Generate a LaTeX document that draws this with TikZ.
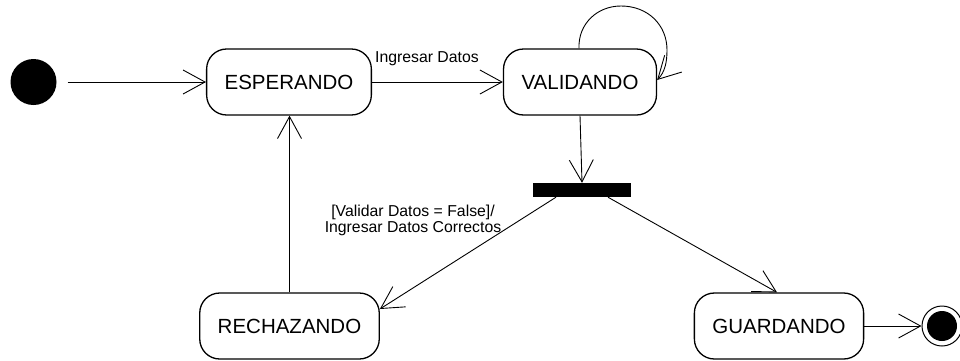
\documentclass[tikz,border=0pt]{standalone}
\usepackage{fontspec}
\setmainfont{Liberation Sans}
\usetikzlibrary{arrows.meta, positioning}
\definecolor{linecolor}{RGB}{0,0,0}

\tikzset{
    statebox/.style={draw=linecolor, line width=1.3pt, rounded corners=20pt,
        minimum height=66pt, inner xsep=18pt, font=\fontsize{20.5}{24}\selectfont},
    startdot/.style={circle, fill=linecolor, minimum size=46pt, inner sep=0pt},
    endring/.style={circle, draw=linecolor, line width=1pt, minimum size=40pt, inner sep=0pt},
    forkbar/.style={rectangle, fill=linecolor, minimum width=98pt, minimum height=14pt, inner sep=0pt},
    trans/.style={draw=linecolor, line width=0.9pt, -{Straight Barb[length=22pt, width=24pt, line width=0.9pt]}},
    edgelabel/.style={font=\fontsize{15.8}{16}\selectfont, inner sep=0pt}
}

\begin{document}
\begin{tikzpicture}[x=1pt, y=-1pt]
    \useasboundingbox (0,0) rectangle (960,360);

    % Initial and final states
    \node[startdot] (start) at (33.5,82) {};
    \node[endring] (fin) at (942,326) {};
    \fill[linecolor] (fin.center) circle (15pt);

    % States
    \node[statebox] (esp) at (289,82) {ESPERANDO};
    \node[statebox] (val) at (580,82) {VALIDANDO};
    \node[statebox] (rech) at (289.5,326) {RECHAZANDO};
    \node[statebox] (guar) at (779,326) {GUARDANDO};

    % Fork bar
    \node[forkbar] (bar) at (582,190) {};

    % Transitions
    \draw[trans] ([xshift=11pt]start.east) -- (esp.west);
    \draw[trans] (esp.east) -- node[edgelabel, pos=0.42, above=16pt] (lblin) {Ingresar Datos} (val.west);
    \draw[trans] ([xshift=-1pt]val.north) .. controls (578,24) and (597,6) .. (621,6)
        .. controls (648,6) and (667,25) .. (667,50)
        .. controls (667,62) and (665,72) .. ([yshift=2pt]val.east);
    \draw[trans] (val.south) -- (bar.north);
    \draw[trans] ([xshift=-26pt]bar.south) -- ([yshift=17pt]rech.east);
    \draw[trans] ([xshift=26pt]bar.south) -- ([xshift=-2pt]guar.north);
    \draw[trans] (rech.north) -- (rech.north |- esp.south);
    \draw[trans] (guar.east) -- (fin.west);

    % Guard label
    \node[edgelabel, align=center] (lblguard) at (413,220) {[Validar Datos = False]/\\Ingresar Datos Correctos};
\end{tikzpicture}
\end{document}
